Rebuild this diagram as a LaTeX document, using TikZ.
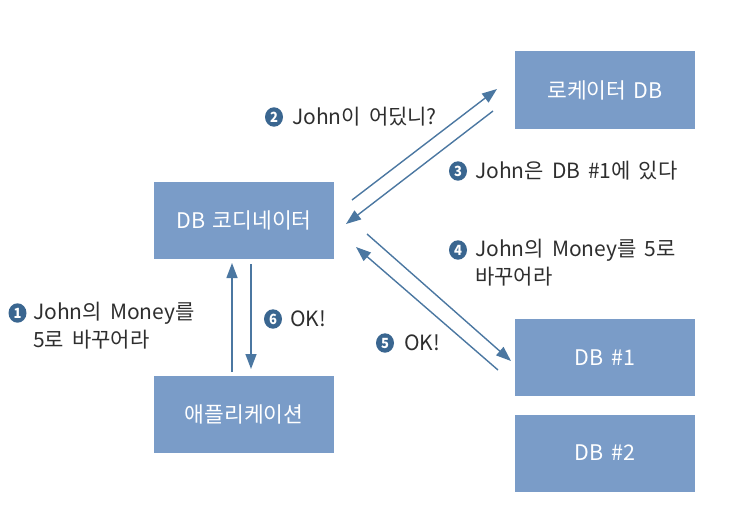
\documentclass[tikz,border=0pt]{standalone}
\usepackage{fontspec}
\setmainfont{Noto Sans CJK KR}
\usetikzlibrary{arrows.meta}
\definecolor{boxblue}{HTML}{7A9CC8}
\definecolor{arrblue}{HTML}{4B77A1}
\definecolor{badge}{HTML}{3A6690}
\definecolor{txt}{HTML}{2E2E2E}
\newcommand\myboxfont{\fontsize{21.5}{24}\selectfont\spaceskip=7.5pt plus 1pt\relax}
\newcommand\mylblfont{\fontsize{21}{27}\selectfont\spaceskip=8pt plus 1pt\relax}
\tikzset{
  box/.style={fill=boxblue, draw=none, minimum width=180pt, minimum height=77pt, inner sep=0pt, text=white, font=\myboxfont},
  conn/.style={draw=arrblue, line width=1.4pt, -{Triangle[length=15pt,width=11pt]}},
  num/.style={fill=badge, circle, inner sep=0pt, minimum size=18pt, yscale=1.08, text=white, font=\fontsize{13}{13}\selectfont\bfseries},
  lbl/.style={anchor=west, inner sep=0pt, text=txt, font=\mylblfont, align=left},
}
\begin{document}
\begin{tikzpicture}[x=1pt,y=-1pt]
\useasboundingbox (0,0) rectangle (735,524);
% boxes
\node[box] (coord) at (244,220) {DB 코디네이터};
\node[box] (loc) at (605,90) {로케이터 DB};
\node[box] (db1) at (605,357.5) {DB \#1};
\node[box] (db2) at (605,453) {DB \#2};
\node[box] (app) at (244,414.5) {애플리케이션};
% arrow end points
\coordinate (a1s) at (232,372);
\coordinate (a1e) at (232,263);
\coordinate (a6s) at (251,264);
\coordinate (a6e) at (251,369);
\coordinate (a2s) at (352,200);
\coordinate (a2e) at (497,89);
\coordinate (a3s) at (493,111);
\coordinate (a3e) at (346,224);
\coordinate (a4s) at (367,234);
\coordinate (a4e) at (511,361);
\coordinate (a5s) at (498,370);
\coordinate (a5e) at (356,247);
\draw[conn] (a1s) -- (a1e);
\draw[conn] (a6s) -- (a6e);
\draw[conn] (a2s) -- (a2e);
\draw[conn] (a3s) -- (a3e);
\draw[conn] (a4s) -- (a4e);
\draw[conn] (a5s) -- (a5e);
% labels
\node[num] (n2) at (274,117) {2};
\node[lbl] (t2) at (292,117) {John이 어딨니?};
\node[num] (n3) at (458,171) {3};
\node[lbl] (t3) at (475,171) {John은 DB \#1에 있다};
\node[num] (n4) at (458,250) {4};
\node[lbl] (t4) at (475,250) {John의 Money를 5로};
\node[lbl] (t4b) at (475,277) {바꾸어라};
\node[num] (n5) at (385,343) {5};
\node[lbl] (t5) at (404,343) {OK!};
\node[num] (n1) at (17.5,313) {1};
\node[lbl] (t1) at (33,313) {John의 Money를};
\node[lbl] (t1b) at (33,340) {5로 바꾸어라};
\node[num] (n6) at (273,319) {6};
\node[lbl] (t6) at (290,319) {OK!};
\end{tikzpicture}
\end{document}
